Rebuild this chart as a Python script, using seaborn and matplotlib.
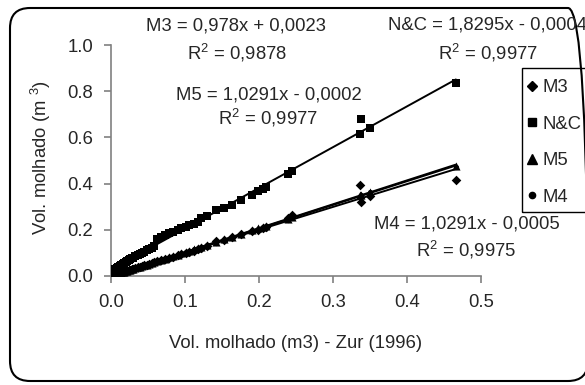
import numpy as np
import pandas as pd
import matplotlib
matplotlib.use("Agg")
import matplotlib.pyplot as plt
from matplotlib.patches import FancyBboxPatch, Rectangle
from matplotlib.lines import Line2D
import seaborn as sns

# ---- data ----
x_zur = [0.002, 0.004, 0.006, 0.008, 0.010, 0.012, 0.014, 0.016, 0.018, 0.020,
         0.022, 0.024, 0.026, 0.028, 0.030, 0.033, 0.036, 0.039, 0.042, 0.045,
         0.048, 0.051, 0.055, 0.058, 0.062, 0.068, 0.073, 0.079, 0.084, 0.090,
         0.095, 0.101, 0.106, 0.112, 0.117, 0.122, 0.130, 0.142, 0.153, 0.163,
         0.176, 0.190, 0.199, 0.205, 0.210, 0.239, 0.245, 0.336, 0.338, 0.350,
         0.466]
y_nc = [0.024, 0.028, 0.032, 0.036, 0.040, 0.044, 0.048, 0.052, 0.056, 0.060,
        0.064, 0.068, 0.072, 0.076, 0.080, 0.085, 0.090, 0.095, 0.100, 0.106,
        0.111, 0.116, 0.122, 0.128, 0.162, 0.168, 0.177, 0.184, 0.191, 0.198,
        0.206, 0.213, 0.220, 0.227, 0.234, 0.249, 0.258, 0.284, 0.294, 0.306,
        0.330, 0.349, 0.370, 0.378, 0.385, 0.440, 0.455, 0.615, 0.680, 0.640,
        0.836]
y_m3 = [0.003, 0.005, 0.007, 0.009, 0.011, 0.013, 0.015, 0.017, 0.019, 0.021,
        0.023, 0.025, 0.027, 0.029, 0.031, 0.034, 0.037, 0.040, 0.043, 0.046,
        0.049, 0.052, 0.056, 0.059, 0.063, 0.068, 0.073, 0.079, 0.084, 0.090,
        0.095, 0.100, 0.105, 0.110, 0.115, 0.122, 0.128, 0.150, 0.158, 0.170,
        0.180, 0.195, 0.200, 0.208, 0.212, 0.250, 0.262, 0.394, 0.320, 0.345,
        0.415]
y_m4 = [0.002, 0.004, 0.006, 0.008, 0.010, 0.012, 0.014, 0.016, 0.018, 0.020,
        0.022, 0.024, 0.026, 0.028, 0.030, 0.033, 0.036, 0.039, 0.042, 0.045,
        0.048, 0.051, 0.055, 0.058, 0.062, 0.068, 0.074, 0.080, 0.086, 0.092,
        0.097, 0.103, 0.109, 0.115, 0.120, 0.126, 0.134, 0.146, 0.158, 0.168,
        0.181, 0.196, 0.205, 0.211, 0.216, 0.246, 0.252, 0.345, 0.350, 0.362,
        0.470]
y_m5 = [0.003, 0.005, 0.007, 0.009, 0.011, 0.013, 0.015, 0.017, 0.019, 0.021,
        0.023, 0.025, 0.027, 0.029, 0.031, 0.034, 0.037, 0.040, 0.043, 0.046,
        0.049, 0.052, 0.056, 0.059, 0.063, 0.069, 0.075, 0.081, 0.087, 0.093,
        0.098, 0.104, 0.110, 0.116, 0.121, 0.127, 0.135, 0.148, 0.160, 0.170,
        0.183, 0.198, 0.207, 0.213, 0.218, 0.248, 0.254, 0.350, 0.352, 0.365,
        0.475]

series_names = ["M3", "N&C", "M5", "M4"]
series_values = {"M3": y_m3, "N&C": y_nc, "M5": y_m5, "M4": y_m4}
series_markers = {"M3": "D", "N&C": "s", "M5": "^", "M4": "o"}
series_sizes = {"M3": 24, "N&C": 28, "M5": 34, "M4": 14}

eq_texts = ["M3 = 0,978x + 0,0023", "R$^2$ = 0,9878",
            "N&C = 1,8295x - 0,0004", "R$^2$ = 0,9977",
            "M5 = 1,0291x - 0,0002", "R$^2$ = 0,9977",
            "M4 = 1,0291x - 0,0005", "R$^2$ = 0,9975"]

x_ticks = [0.0, 0.1, 0.2, 0.3, 0.4, 0.5]
y_ticks = [0.0, 0.2, 0.4, 0.6, 0.8, 1.0]

# ---- style ----
sns.set_style("white")
plt.rcParams["font.family"] = ["Liberation Sans", "DejaVu Sans"]
plt.rcParams["mathtext.fontset"] = "custom"
plt.rcParams["mathtext.rm"] = "Liberation Sans"
plt.rcParams["mathtext.it"] = "Liberation Sans"
FS = 13.3

W, H = 585, 385
fig = plt.figure(figsize=(W / 100, H / 100), dpi=100)
ax = fig.add_axes([111 / W, 1 - 276 / H, (481 - 111) / W, (276 - 45) / H])

order = ["N&C", "M3", "M5", "M4"]
for name in order:
    df = pd.DataFrame({"x": x_zur, "y": series_values[name]})
    sns.regplot(data=df, x="x", y="y", ax=ax, ci=None, truncate=True,
                marker=series_markers[name], color="black",
                scatter_kws={"s": series_sizes[name], "linewidths": 0,
                             "alpha": 1, "zorder": 3},
                line_kws={"lw": 1.4, "color": "black", "zorder": 2})

ax.set_xlim(0, 0.5)
ax.set_ylim(0, 1.0)
ax.set_xticks(x_ticks)
ax.set_yticks(y_ticks)
ax.set_xticklabels([f"{v:.1f}" for v in x_ticks], fontsize=FS)
ax.set_yticklabels([f"{v:.1f}" for v in y_ticks], fontsize=FS)
for s in ["top", "right"]:
    ax.spines[s].set_visible(False)
for s in ["left", "bottom"]:
    ax.spines[s].set_color("#808080")
    ax.spines[s].set_linewidth(1.2)
ax.tick_params(axis="both", direction="out", length=5, width=1.2,
               color="#808080", pad=8, bottom=True, left=True)
ax.set_xlabel("")
ax.set_ylabel("")

fig.text(296 / W, 1 - 344 / H, "Vol. molhado (m3) - Zur (1996)",
         ha="center", va="center", fontsize=FS)
fig.text(41 / W, 1 - 158 / H, "Vol. molhado (m $^{3}$)", rotation=90,
         ha="center", va="center", fontsize=FS)

# equations
pos = [(236, 26), (237, 53), (487, 25), (488, 53),
       (269, 95), (268, 118), (467, 224), (466, 250)]
for t, (px, py) in zip(eq_texts, pos):
    fig.text(px / W, 1 - py / H, t, ha="center", va="center", fontsize=FS)

# legend (frame drawn separately so it can run off the right edge)
handles = [Line2D([], [], ls="none", marker=series_markers[n], color="black",
                  markersize={"M3": 5.5, "N&C": 6, "M5": 7, "M4": 4.5}[n])
           for n in series_names]
leg = fig.legend(handles, series_names, loc="upper left",
                 bbox_to_anchor=(527 / W, 1 - 79 / H), frameon=False,
                 fontsize=FS, handlelength=0.5, handletextpad=0.35,
                 labelspacing=1.06, borderpad=0, borderaxespad=0)
fig.patches.append(Rectangle((522 / W, 1 - 212 / H), 90 / W, (212 - 68) / H,
                             transform=fig.transFigure, fill=False,
                             edgecolor="black", lw=1.0))

# rounded outer frame
frame = FancyBboxPatch((0.10, 0.04), 5.78, 3.73,
                       boxstyle="round,pad=0,rounding_size=0.2",
                       transform=fig.dpi_scale_trans, fill=False,
                       edgecolor="black", lw=1.5)
fig.patches.append(frame)

fig.savefig("out.png", dpi=100)
